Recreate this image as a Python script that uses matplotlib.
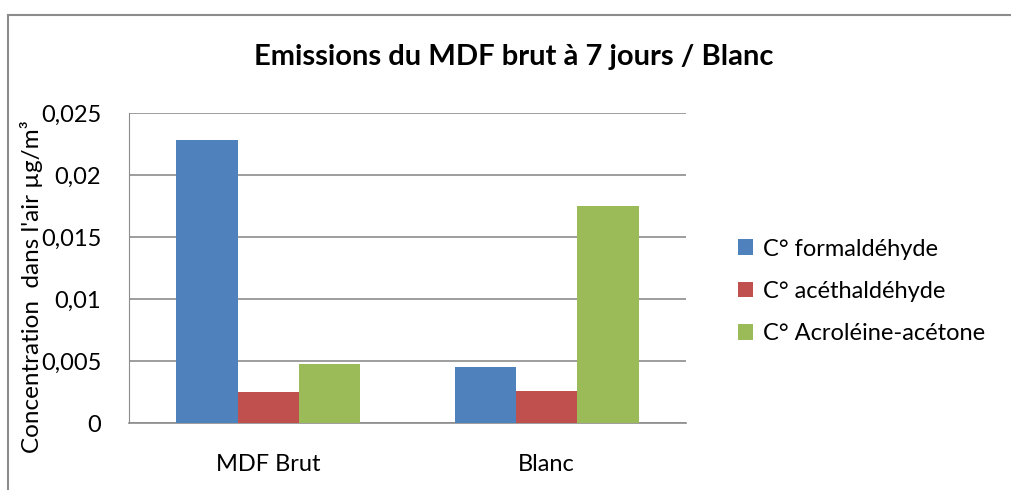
import matplotlib
matplotlib.use("Agg")
import matplotlib.pyplot as plt
from matplotlib.lines import Line2D
from matplotlib.ticker import FuncFormatter, MultipleLocator
import numpy as np

plt.rcParams["font.family"] = ["Lato", "DejaVu Sans"]

# data
categories = ["MDF Brut", "Blanc"]
series_names = ["C° formaldéhyde", "C° acéthaldéhyde", "C° Acroléine-acétone"]
formaldehyde = [0.02285, 0.00454]
acethaldehyde = [0.00252, 0.00258]
acroleine = [0.00478, 0.01747]
colors = ["#4F81BD", "#C0504D", "#9BBB59"]

values = [formaldehyde, acethaldehyde, acroleine]

fig = plt.figure(figsize=(10.11, 4.9), dpi=100)
ax = fig.add_axes([129 / 1011, 1 - 423 / 490, 557 / 1011, 310 / 490])

x = np.arange(len(categories))
width = 0.22
for i, (name, vals) in enumerate(zip(series_names, values)):
    ax.bar(x + (i - 1) * width, vals, width, color=colors[i], label=name, zorder=3)

ax.set_xlim(-0.5, 1.5)
ax.set_ylim(0, 0.025)
ax.yaxis.set_major_locator(MultipleLocator(0.005))
ax.yaxis.set_major_formatter(
    FuncFormatter(lambda v, p: "0" if abs(v) < 1e-12 else f"{v:.3f}".rstrip("0").replace(".", ","))
)
ax.set_xticks(x)
ax.set_xticklabels(categories)
ax.grid(axis="y", color="#8C8C8C", linewidth=1.2, zorder=0)
for side in ["top", "right"]:
    ax.spines[side].set_visible(False)
ax.spines["left"].set_color("#8C8C8C")
ax.spines["bottom"].set_color("#8C8C8C")
ax.spines["bottom"].set_linewidth(1.2)
ax.tick_params(axis="y", length=0, labelsize=17, pad=20)
ax.tick_params(axis="x", length=0, labelsize=17, pad=22)
ax.set_ylabel("Concentration  dans l'air µg/m³", fontsize=17.5)
ax.yaxis.set_label_coords(-0.155, 0.44)

fig.text(514 / 1011, 1 - 57 / 490, "Emissions du MDF brut à 7 jours / Blanc",
         ha="center", va="center", fontsize=21, fontweight="bold")

ax.legend(loc="center left", bbox_to_anchor=(1.055, 0.425), frameon=False,
          fontsize=17, handlelength=0.65, handleheight=0.65, handletextpad=0.4,
          labelspacing=0.9)

# outer chart frame (top and left edges visible in the crop)
fig.add_artist(Line2D([8 / 1011, 1], [1 - 15 / 490, 1 - 15 / 490],
                      transform=fig.transFigure, color="#8C8C8C", linewidth=1.5))
fig.add_artist(Line2D([8 / 1011, 8 / 1011], [0, 1 - 15 / 490],
                      transform=fig.transFigure, color="#8C8C8C", linewidth=1.5))

fig.savefig("out.png", dpi=100)
